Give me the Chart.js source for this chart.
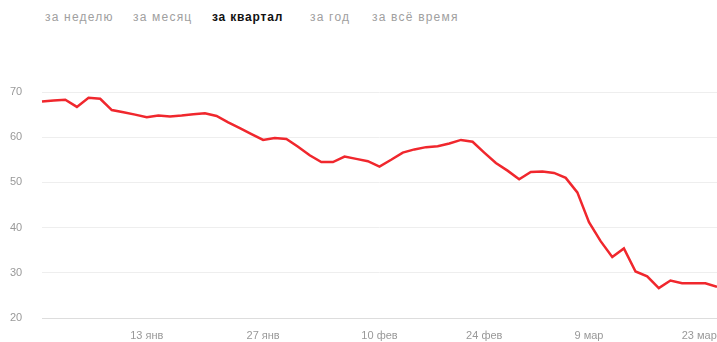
<!DOCTYPE html>
<html>
<head>
<meta charset="utf-8">
<script src="https://cdn.jsdelivr.net/npm/chart.js@4"></script>
<style>
  body { margin: 0; background: #fff; font-family: "Liberation Sans", Arial, sans-serif; }
  .tabs span { position: absolute; top: 10px; font-size: 12px; color: #a0a0a0; letter-spacing: 1.2px; white-space: nowrap; }
  .tabs .on { color: #111; font-weight: bold; letter-spacing: 0.8px; }
  .wrap { position: absolute; left: 0; top: 40px; width: 717px; height: 302px; }
</style>
</head>
<body>
<div class="tabs">
  <span style="left:45px">за неделю</span>
  <span style="left:133px">за месяц</span>
  <span class="on" style="left:212px">за квартал</span>
  <span style="left:310px">за год</span>
  <span style="left:372px">за всё время</span>
</div>
<div class="wrap"><canvas id="rateChart"></canvas></div>
<script>
// dates of each point (trading days)
const dates = [
  '23 дек', '24 дек', '25 дек', '28 дек', '29 дек', '30 дек', '31 дек', '11 янв', '12 янв',
  '13 янв', '14 янв', '15 янв', '18 янв', '19 янв', '20 янв', '21 янв', '22 янв', '25 янв', '26 янв',
  '27 янв', '28 янв', '29 янв', '1 фев', '2 фев', '3 фев', '4 фев', '5 фев', '8 фев', '9 фев',
  '10 фев', '11 фев', '12 фев', '15 фев', '16 фев', '17 фев', '18 фев', '19 фев', '20 фев',
  '24 фев', '25 фев', '26 фев', '29 фев', '1 мар', '2 мар', '3 мар', '4 мар', '7 мар',
  '9 мар', '10 мар', '11 мар', '14 мар', '15 мар', '16 мар', '17 мар', '18 мар', '21 мар', '22 мар',
  '23 мар', '24 мар'
];

const values = [
  67.9, 68.1, 68.3, 66.7, 68.7, 68.5, 66.0, 65.5, 65.0,
  64.4, 64.8, 64.6, 64.8, 65.1, 65.3, 64.7, 63.3, 62.0, 60.7,
  59.4, 59.8, 59.6, 57.9, 56.0, 54.5, 54.5, 55.7, 55.2, 54.7,
  53.5, 55.0, 56.6, 57.3, 57.8, 58.0, 58.6, 59.4, 59.0,
  56.6, 54.3, 52.6, 50.7, 52.3, 52.4, 52.1, 51.0, 47.8,
  41.2, 37.0, 33.5, 35.4, 30.3, 29.2, 26.6, 28.3, 27.7, 27.7,
  27.7, 26.9
];

const shownDates = ['13 янв', '27 янв', '10 фев', '24 фев', '9 мар', '23 мар'];
const yTicks = [20, 30, 40, 50, 60, 70];

const ctx = document.getElementById('rateChart').getContext('2d');

new Chart(ctx, {
  type: 'line',
  data: {
    labels: dates,
    datasets: [
      {
        label: 'Рейтинг',
        data: values,
        borderColor: '#f0272d',
        borderWidth: 2.5,
        pointRadius: 0,
        tension: 0,
        fill: false,
      },
    ],
  },
  options: {
    responsive: true,
    maintainAspectRatio: false,
    animation: false,
    layout: { padding: { top: 52, left: 10, right: 0, bottom: 0 } },
    plugins: {
      legend: { display: false },
      tooltip: { enabled: false },
    },
    scales: {
      x: {
        offset: false,
        grid: {
          display: true,
          drawOnChartArea: false,
          drawTicks: true,
          tickLength: 11,
          tickColor: 'rgba(0,0,0,0)',
        },
        border: { display: true, color: '#ddd' },
        afterFit: (axis) => {
          axis.height = 24;
        },
        ticks: {
          autoSkip: false,
          maxRotation: 0,
          minRotation: 0,
          padding: 0,
          color: '#999',
          font: { family: '"Liberation Sans", Arial, sans-serif', size: 11 },
          callback: function (value) {
            const lbl = this.getLabelForValue(value);
            if (!shownDates.includes(lbl)) return '';
            // keep the last label inside the canvas
            return lbl === shownDates[shownDates.length - 1] ? lbl + '    ' : lbl;
          },
        },
      },
      y: {
        min: 20,
        max: 70,
        afterBuildTicks: (axis) => {
          axis.ticks = yTicks.map((v) => ({ value: v }));
        },
        afterFit: (axis) => {
          axis.width = 32;
        },
        grid: { color: '#eeeeee', drawTicks: false },
        border: { display: false },
        ticks: {
          crossAlign: 'far',
          padding: 0,
          color: '#999',
          font: { family: '"Liberation Sans", Arial, sans-serif', size: 11 },
        },
      },
    },
  },
});
</script>
</body>
</html>
